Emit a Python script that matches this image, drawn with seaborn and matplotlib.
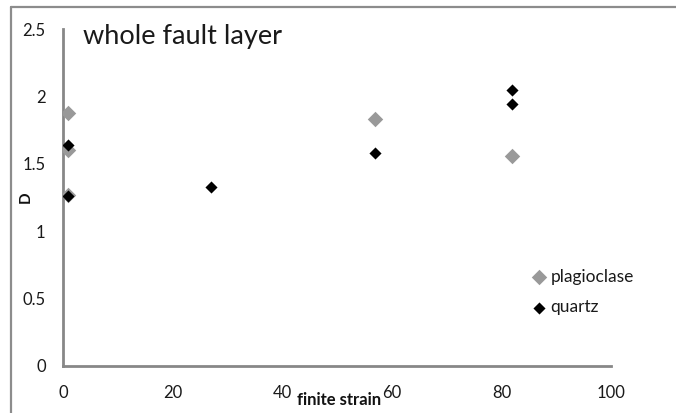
import matplotlib
matplotlib.use("Agg")
import matplotlib.pyplot as plt
import seaborn as sns
import pandas as pd
from matplotlib.lines import Line2D

# data
plag_strain = [1, 1, 1, 57, 82]
plag_D = [1.88, 1.60, 1.27, 1.83, 1.56]
quartz_strain = [1, 1, 27, 57, 82, 82]
quartz_D = [1.64, 1.26, 1.33, 1.58, 2.05, 1.94]
series_names = ["plagioclase", "quartz"]
x_ticks = [0, 20, 40, 60, 80, 100]
y_ticks = [0, 0.5, 1, 1.5, 2, 2.5]
y_tick_labels = ["0", "0.5", "1", "1.5", "2", "2.5"]

sns.set_style("white")
plt.rcParams["font.family"] = ["Lato", "DejaVu Sans"]

W, H = 676, 413
fig = plt.figure(figsize=(W / 100, H / 100), dpi=100)
ax = fig.add_axes([63 / W, 1 - 366 / H, (611 - 63) / W, (366 - 29) / H])

plag = pd.DataFrame({"strain": plag_strain, "D": plag_D})
qtz = pd.DataFrame({"strain": quartz_strain, "D": quartz_D})

sns.scatterplot(data=plag, x="strain", y="D", ax=ax, marker="D", s=62,
                color="#999999", linewidth=0, label=series_names[0], zorder=3)
sns.scatterplot(data=qtz, x="strain", y="D", ax=ax, marker="D", s=38,
                color="#000000", linewidth=0, label=series_names[1], zorder=4)

ax.set_xlim(0, 100)
ax.set_ylim(0, 2.5)
ax.set_xticks(x_ticks)
ax.set_xticklabels([str(v) for v in x_ticks])
ax.set_yticks(y_ticks)
ax.set_yticklabels(y_tick_labels)

spine_col = "#878787"
for s in ["top", "right"]:
    ax.spines[s].set_visible(False)
for s in ["left", "bottom"]:
    ax.spines[s].set_color(spine_col)
    ax.spines[s].set_linewidth(2.0)
ax.tick_params(axis="both", direction="out", length=4.5, width=2.0,
               color=spine_col, labelsize=12, labelcolor="#1a1a1a")
ax.tick_params(axis="y", pad=8)
ax.tick_params(axis="x", pad=9)

ax.set_xlabel("finite strain", fontsize=12, fontweight="bold", color="#111111")
ax.xaxis.set_label_coords((339 - 63) / 548, (366 - 392) / 337)
ax.set_ylabel("D", fontsize=11, fontweight="bold", color="#111111")
ax.yaxis.set_label_coords((33 - 63) / 548, 0.5)

ax.text((83 - 63) / 548, (366 - 44) / 337, "whole fault layer",
        transform=ax.transAxes, fontsize=19.5, color="#1a1a1a",
        ha="left", va="baseline")

leg = ax.legend(loc="center left", bbox_to_anchor=((520 - 63) / 548, (366 - 292) / 337),
                frameon=False, fontsize=12.5, handletextpad=0.05,
                labelspacing=0.85, borderpad=0, handlelength=1.2)
for t in leg.get_texts():
    t.set_color("#1a1a1a")

# outer chart border
fig.add_artist(Line2D([11 / W, 1.0], [1 - 7 / H, 1 - 7 / H], transform=fig.transFigure,
                      color="#8c8c8c", linewidth=1.6))
fig.add_artist(Line2D([11 / W, 11 / W], [0, 1 - 7 / H], transform=fig.transFigure,
                      color="#8c8c8c", linewidth=1.6))

fig.savefig("out.png", dpi=100)
